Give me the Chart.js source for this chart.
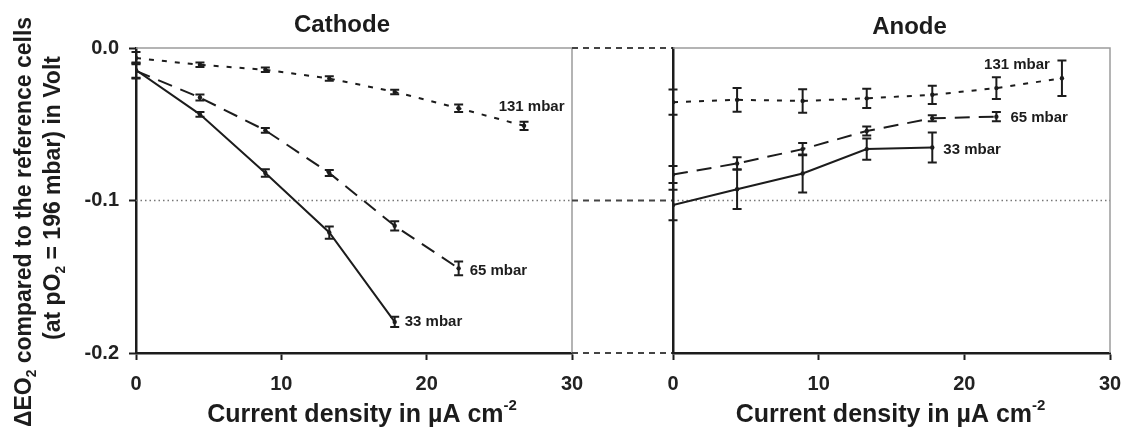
<!DOCTYPE html>
<html>
<head>
<meta charset="utf-8">
<script src="https://cdn.jsdelivr.net/npm/chart.js@4.4.1/dist/chart.umd.min.js"></script>
<style>
  body { margin: 0; background: #fff; overflow: hidden; }
  #wrap { position: relative; width: 1121px; height: 434px; overflow: hidden; }
  canvas { position: absolute; top: 0; }
  #cathodeChart { left: 0; }
  #anodeChart { left: 560px; }
</style>
</head>
<body>
<div id="wrap">
  <canvas id="cathodeChart" width="600" height="434"></canvas>
  <canvas id="anodeChart" width="575" height="434"></canvas>
</div>
<script>
// current density steps (µA cm-2)
const currentDensity = [0, 4.4, 8.9, 13.3, 17.8, 22.2, 26.7];
const pressureLabels = ['131 mbar', '65 mbar', '33 mbar'];
const yTicks = [0, -0.1, -0.2];

// Cathode, delta E in Volt, with error (+/-)
const cathode131 = [-0.0066, -0.011, -0.0143, -0.020, -0.0288, -0.0395, -0.051];
const cathode131Err = [0.004, 0.0015, 0.0015, 0.0015, 0.0015, 0.0025, 0.0027];
const cathode65 = [-0.015, -0.0325, -0.054, -0.082, -0.1166, -0.1445];
const cathode65Err = [0.005, 0.002, 0.0015, 0.002, 0.003, 0.0045];
const cathode33 = [-0.0145, -0.0435, -0.082, -0.121, -0.1796];
const cathode33Err = [0.005, 0.0015, 0.0025, 0.004, 0.0033];

// Anode
const anode131 = [-0.0355, -0.034, -0.0347, -0.033, -0.0307, -0.0263, -0.0198];
const anode131Err = [0.0083, 0.0078, 0.0077, 0.0063, 0.006, 0.0072, 0.0116];
const anode65 = [-0.083, -0.0757, -0.0663, -0.0544, -0.0461, -0.045];
const anode65Err = [0.0056, 0.004, 0.004, 0.003, 0.002, 0.003];
const anode33 = [-0.103, -0.0926, -0.0823, -0.0663, -0.0652];
const anode33Err = [0.01, 0.013, 0.0124, 0.007, 0.0098];

const FONT = "'Liberation Sans', Arial, sans-serif";
const INK = '#1c1c1c';

function drawRuns(ctx, runs, x, y, size, align) {
  // text with sub/superscript pieces
  let w = 0;
  runs.forEach(r => {
    ctx.font = 'bold ' + (r.s ? size * 0.6 : size) + 'px ' + FONT;
    w += ctx.measureText(r.t).width;
  });
  let cx = align === 'center' ? x - w / 2 : (align === 'right' ? x - w : x);
  ctx.textAlign = 'left';
  ctx.textBaseline = 'middle';
  runs.forEach(r => {
    const fs = r.s ? size * 0.6 : size;
    ctx.font = 'bold ' + fs + 'px ' + FONT;
    const dy = r.s === 'sub' ? size * 0.3 : (r.s === 'sup' ? -size * 0.38 : 0);
    ctx.fillText(r.t, cx, y + dy);
    cx += ctx.measureText(r.t).width;
  });
}

const panelDeco = {
  id: 'panelDeco',
  beforeDatasetsDraw(chart, args, opts) {
    const ctx = chart.ctx, a = chart.chartArea, y = chart.scales.y;
    ctx.save();
    // thin grey frame top and right
    ctx.strokeStyle = '#9c9c9c';
    ctx.lineWidth = 1.5;
    ctx.beginPath();
    ctx.moveTo(a.left, a.top);
    ctx.lineTo(a.right, a.top);
    ctx.lineTo(a.right, a.bottom);
    ctx.stroke();
    // dotted line at -0.1
    const yp = y.getPixelForValue(-0.1);
    ctx.setLineDash([1.5, 3]);
    ctx.strokeStyle = '#777';
    ctx.lineWidth = 1.3;
    ctx.beginPath();
    ctx.moveTo(a.left, yp);
    ctx.lineTo(a.right, yp);
    ctx.stroke();
    // dashed connectors from the left panel
    if (opts.connectFrom !== undefined) {
      ctx.setLineDash([6, 5]);
      ctx.strokeStyle = '#444';
      ctx.lineWidth = 2;
      yTicks.forEach(v => {
        const p = y.getPixelForValue(v);
        ctx.beginPath();
        ctx.moveTo(opts.connectFrom, p);
        ctx.lineTo(a.left - 1, p);
        ctx.stroke();
      });
    }
    ctx.restore();
  },
  afterDatasetsDraw(chart, args, opts) {
    const ctx = chart.ctx, a = chart.chartArea;
    const xs = chart.scales.x, ys = chart.scales.y;
    ctx.save();
    ctx.fillStyle = INK;
    ctx.strokeStyle = INK;
    ctx.lineWidth = 2;
    // error bars
    chart.data.datasets.forEach(ds => {
      ds.data.forEach((pt, j) => {
        const e = ds.errors[j];
        const px = xs.getPixelForValue(pt.x);
        const y1 = ys.getPixelForValue(pt.y + e);
        const y2 = ys.getPixelForValue(pt.y - e);
        ctx.beginPath();
        ctx.moveTo(px, y1); ctx.lineTo(px, y2);
        ctx.moveTo(px - 4.5, y1); ctx.lineTo(px + 4.5, y1);
        ctx.moveTo(px - 4.5, y2); ctx.lineTo(px + 4.5, y2);
        ctx.stroke();
      });
    });
    // series labels
    chart.data.datasets.forEach((ds, i) => {
      const t = opts.tags[i];
      const pt = ds.data[t.i];
      const px = xs.getPixelForValue(pt.x) + t.dx;
      const py = ys.getPixelForValue(pt.y) + t.dy;
      ctx.font = 'bold 15px ' + FONT;
      ctx.textAlign = t.align || 'left';
      ctx.textBaseline = 'middle';
      ctx.fillText(ds.label, px, py);
    });
    // panel title
    const cx = (a.left + a.right) / 2;
    drawRuns(ctx, [{ t: opts.title }], cx + opts.titleDx, opts.titleY, 24, 'center');
    // x axis title
    drawRuns(ctx, [{ t: 'Current density in µA cm' }, { t: '-2', s: 'sup' }], cx + opts.xTitleDx, 415, 25, 'center');
    // y axis title
    if (opts.yTitle) {
      ctx.save();
      ctx.translate(25, 222);
      ctx.rotate(-Math.PI / 2);
      drawRuns(ctx, [{ t: 'ΔEO' }, { t: '2', s: 'sub' }, { t: ' compared to the reference cells' }], 0, 0, 23, 'center');
      ctx.restore();
      ctx.save();
      ctx.translate(54, 198);
      ctx.rotate(-Math.PI / 2);
      drawRuns(ctx, [{ t: '(at pO' }, { t: '2', s: 'sub' }, { t: ' = 196 mbar) in Volt' }], 0, 0, 23, 'center');
      ctx.restore();
    }
    ctx.restore();
  }
};

function series(label, values, errors, dash) {
  return {
    label: label,
    data: values.map((v, k) => ({ x: currentDensity[k], y: v })),
    errors: errors,
    borderColor: INK,
    backgroundColor: INK,
    borderWidth: 2,
    borderDash: dash,
    pointRadius: 2.2,
    pointBorderWidth: 0,
    pointBackgroundColor: INK,
    showLine: true,
    fill: false,
    tension: 0
  };
}

function makeOptions(isLeft, deco) {
  return {
    responsive: false,
    animation: false,
    layout: { padding: { left: 0, right: isLeft ? 28 : 25, top: 48, bottom: 0 } },
    plugins: { legend: { display: false }, tooltip: { enabled: false }, panelDeco: deco },
    scales: {
      x: {
        type: 'linear',
        min: 0, max: 30,
        afterFit: s => { s.height = 81; },
        ticks: {
          stepSize: 10,
          padding: 12,
          color: '#222',
          font: { family: FONT, size: 20, weight: 'bold' }
        },
        grid: { drawOnChartArea: false, drawTicks: true, tickLength: 7, tickWidth: 2, tickColor: INK },
        border: { color: INK, width: 2.5 }
      },
      y: {
        type: 'linear',
        min: -0.2, max: 0,
        afterFit: s => { s.width = isLeft ? 136 : 113; },
        ticks: {
          display: isLeft,
          stepSize: 0.1,
          padding: 10,
          color: '#222',
          font: { family: FONT, size: 20, weight: 'bold' },
          callback: v => v.toFixed(1)
        },
        grid: { drawOnChartArea: false, drawTicks: isLeft, tickLength: 7, tickWidth: 2, tickColor: INK },
        border: { color: INK, width: 2.5 }
      }
    }
  };
}

const cathodeChart = new Chart(document.getElementById('cathodeChart'), {
  type: 'line',
  data: {
    datasets: [
      series(pressureLabels[0], cathode131, cathode131Err, [5, 8]),
      series(pressureLabels[1], cathode65, cathode65Err, [15, 9]),
      series(pressureLabels[2], cathode33, cathode33Err, [])
    ]
  },
  options: makeOptions(true, {
    title: 'Cathode', titleDx: -12, titleY: 25, xTitleDx: 8, yTitle: true,
    tags: [
      { i: 5, dx: 40, dy: -1 },
      { i: 5, dx: 11, dy: 2 },
      { i: 4, dx: 10, dy: 0 }
    ]
  }),
  plugins: [panelDeco]
});

const anodeChart = new Chart(document.getElementById('anodeChart'), {
  type: 'line',
  data: {
    datasets: [
      series(pressureLabels[0], anode131, anode131Err, [5, 8]),
      series(pressureLabels[1], anode65, anode65Err, [15, 9]),
      series(pressureLabels[2], anode33, anode33Err, [])
    ]
  },
  options: makeOptions(false, {
    title: 'Anode', titleDx: 18, titleY: 27, xTitleDx: -1, yTitle: false, connectFrom: 12,
    tags: [
      { i: 6, dx: -12, dy: -13, align: 'right' },
      { i: 5, dx: 14, dy: 1 },
      { i: 4, dx: 11, dy: 2 }
    ]
  }),
  plugins: [panelDeco]
});
</script>
</body>
</html>
